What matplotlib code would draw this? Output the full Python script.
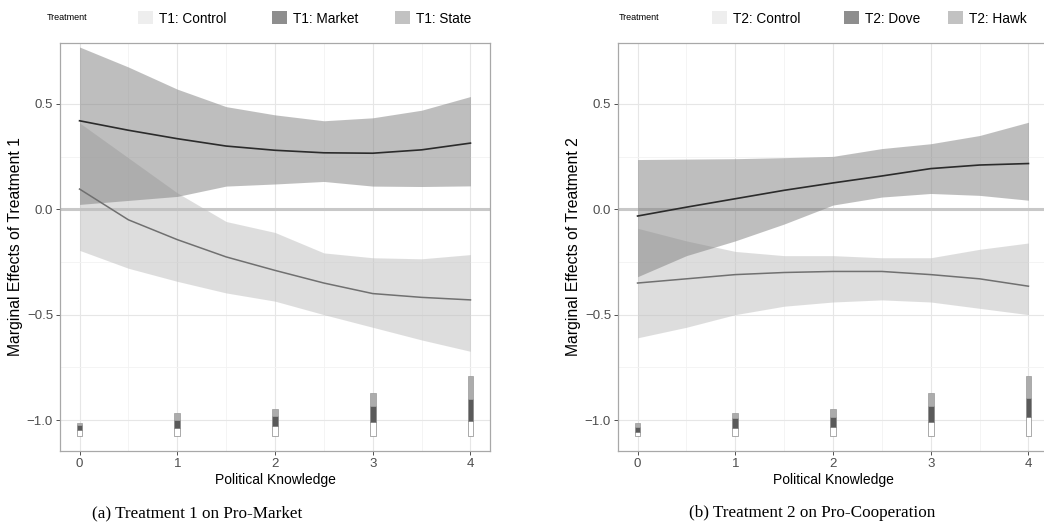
import matplotlib
matplotlib.use("Agg")
import matplotlib.pyplot as plt
from matplotlib.patches import Patch
import numpy as np

plt.rcParams['font.family'] = ['Liberation Sans', 'DejaVu Sans']

# political knowledge grid for the estimated curves
knowledge = [0, 0.5, 1, 1.5, 2, 2.5, 3, 3.5, 4]

# Treatment 1 (Pro-Market)
t1_market = [0.42, 0.375, 0.335, 0.30, 0.28, 0.268, 0.266, 0.282, 0.314]
t1_market_hi = [0.77, 0.675, 0.57, 0.487, 0.448, 0.42, 0.434, 0.47, 0.535]
t1_market_lo = [0.023, 0.042, 0.061, 0.11, 0.12, 0.132, 0.11, 0.108, 0.111]
t1_state = [0.096, -0.05, -0.144, -0.226, -0.29, -0.35, -0.40, -0.418, -0.43]
t1_state_hi = [0.41, 0.244, 0.078, -0.058, -0.11, -0.207, -0.23, -0.235, -0.215]
t1_state_lo = [-0.195, -0.28, -0.342, -0.397, -0.436, -0.5, -0.56, -0.62, -0.674]

# Treatment 2 (Pro-Cooperation)
t2_dove = [-0.032, 0.01, 0.05, 0.09, 0.125, 0.158, 0.193, 0.21, 0.217]
t2_dove_hi = [0.236, 0.238, 0.24, 0.245, 0.251, 0.288, 0.311, 0.35, 0.413]
t2_dove_lo = [-0.32, -0.22, -0.15, -0.07, 0.02, 0.058, 0.075, 0.066, 0.043]
t2_hawk = [-0.35, -0.33, -0.31, -0.30, -0.295, -0.295, -0.31, -0.33, -0.365]
t2_hawk_hi = [-0.09, -0.15, -0.2, -0.22, -0.22, -0.23, -0.23, -0.19, -0.16]
t2_hawk_lo = [-0.61, -0.56, -0.5, -0.46, -0.44, -0.43, -0.44, -0.47, -0.5]

# distribution of respondents by knowledge level (stacked bar heights)
levels = [0, 1, 2, 3, 4]
bar_base = -1.074
t1_n_control = [0.027, 0.034, 0.046, 0.066, 0.071]
t1_n_market = [0.023, 0.040, 0.047, 0.074, 0.103]
t1_n_state = [0.008, 0.035, 0.035, 0.062, 0.110]
t2_n_control = [0.016, 0.035, 0.043, 0.066, 0.087]
t2_n_dove = [0.027, 0.047, 0.047, 0.074, 0.092]
t2_n_hawk = [0.016, 0.027, 0.038, 0.062, 0.104]

labels1 = ["T1: Control", "T1: Market", "T1: State"]
labels2 = ["T2: Control", "T2: Dove", "T2: Hawk"]
key_colors = ["#eeeeee", "#8e8e8e", "#c2c2c2"]


def panel(ax, main, main_hi, main_lo, alt, alt_hi, alt_lo, n_ctrl, n_main, n_alt, ylab):
    ax.set_xlim(-0.2, 4.2)
    ax.set_ylim(-1.147, 0.789)
    ax.set_xticks([0, 1, 2, 3, 4])
    ax.set_yticks([-1.0, -0.5, 0.0, 0.5])
    ax.set_yticklabels(["\u22121.0", "\u22120.5", "0.0", "0.5"])
    ax.set_xticks([0.5, 1.5, 2.5, 3.5], minor=True)
    ax.set_yticks([-0.75, -0.25, 0.25], minor=True)
    ax.tick_params(which="major", length=3, width=0.6, color="#333333",
                   labelsize=9.5, labelcolor="#4d4d4d", pad=2)
    ax.tick_params(which="minor", length=0)
    ax.grid(which="major", color="#e6e6e6", lw=0.8)
    ax.grid(which="minor", color="#f2f2f2", lw=0.6)
    ax.set_axisbelow(True)
    for s in ax.spines.values():
        s.set_color("#a8a8a8")
        s.set_linewidth(0.9)

    ax.axhline(0, color="#c8c8c8", lw=2.2, zorder=1)

    ax.fill_between(knowledge, alt_lo, alt_hi, color="#bdbdbd", alpha=0.5, lw=0, zorder=2)
    ax.fill_between(knowledge, main_lo, main_hi, color="#7f7f7f", alpha=0.5, lw=0, zorder=3)
    ax.plot(knowledge, alt, color="#707070", lw=1.1, zorder=4)
    ax.plot(knowledge, main, color="#2b2b2b", lw=1.2, zorder=5)

    w = 0.06
    b1 = bar_base + np.array(n_ctrl)
    b2 = b1 + np.array(n_main)
    ax.bar(levels, n_ctrl, bottom=bar_base, width=w, color="white", edgecolor="#888888", lw=0.5, zorder=5)
    ax.bar(levels, n_main, bottom=b1, width=w, color="#5a5a5a", edgecolor="#888888", lw=0.5, zorder=5)
    ax.bar(levels, n_alt, bottom=b2, width=w, color="#acacac", edgecolor="#999999", lw=0.5, zorder=5)

    ax.set_xlabel("Political Knowledge", fontsize=10, labelpad=2)
    ax.set_ylabel(ylab, fontsize=11.3, labelpad=3)


fig = plt.figure(figsize=(10.44, 5.30), dpi=100)
W, H = 1044, 530
ax1 = fig.add_axes([60 / W, 79 / H, 430 / W, 408 / H])
ax2 = fig.add_axes([618 / W, 79 / H, 430 / W, 408 / H])

panel(ax1, t1_market, t1_market_hi, t1_market_lo, t1_state, t1_state_hi, t1_state_lo,
      t1_n_control, t1_n_market, t1_n_state, "Marginal Effects of Treatment 1")
panel(ax2, t2_dove, t2_dove_hi, t2_dove_lo, t2_hawk, t2_hawk_hi, t2_hawk_lo,
      t2_n_control, t2_n_dove, t2_n_hawk, "Marginal Effects of Treatment 2")

# legends: one entry each, placed where the reference keys sit
for labels, x_title, key_xs in [(labels1, 47, [138, 272, 395]), (labels2, 619, [712, 844, 948])]:
    fig.text(x_title / W, 1 - 18 / H, "Treatment", fontsize=6.5, va="center", ha="left")
    for lab, col, kx in zip(labels, key_colors, key_xs):
        fig.legend([Patch(facecolor=col, edgecolor="none")], [lab], loc="center left",
                   bbox_to_anchor=(kx / W, 1 - 18.5 / H), frameon=False, fontsize=9.8,
                   handlelength=1.1, handleheight=1.1, handletextpad=0.45,
                   borderpad=0, borderaxespad=0)

fig.text(197 / W, 1 - 513 / H, "(a) Treatment 1 on Pro-Market", family="Liberation Serif",
         fontsize=12.3, ha="center", va="center")
fig.text(812 / W, 1 - 513 / H, "(b) Treatment 2 on Pro-Cooperation", family="Liberation Serif",
         fontsize=12.3, ha="center", va="center")

fig.savefig("out.png", dpi=100)
